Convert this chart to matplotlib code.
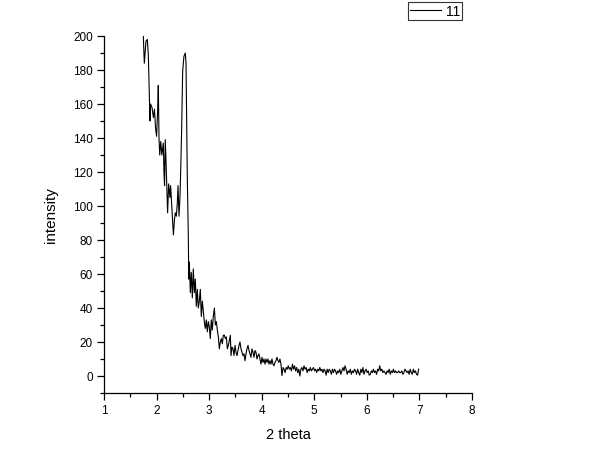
'''
XRD 低角度掃描圖，仿 Origin 輸出風格
intensity vs 2 theta，資料點由原圖讀出
'''

import numpy as np
import matplotlib.pyplot as plt
from matplotlib.ticker import MultipleLocator

plt.rcParams['font.family'] = ['Liberation Sans', 'DejaVu Sans']

# 峰區 (2 theta 非等距，直接由圖上讀)
head_2theta = [
    1.748, 1.767, 1.799, 1.824, 1.843, 1.862, 1.875, 1.885, 1.913, 1.94,
    1.96, 1.98, 2.00, 2.02, 2.033, 2.046, 2.06, 2.08, 2.10, 2.128,
    2.14, 2.152, 2.165, 2.18, 2.198, 2.21, 2.23, 2.255, 2.267, 2.28,
    2.30, 2.32, 2.34, 2.357, 2.376, 2.395, 2.408, 2.427, 2.445, 2.458,
    2.477, 2.496, 2.52, 2.547, 2.56, 2.572, 2.585, 2.604, 2.612, 2.623,
    2.642, 2.66, 2.68, 2.699, 2.718, 2.737, 2.756, 2.775, 2.794, 2.813,
    2.832, 2.851, 2.87, 2.889, 2.908, 2.927, 2.946, 2.965, 2.984, 3.003,
    3.022, 3.041, 3.06, 3.079, 3.10, 3.118, 3.137, 3.156, 3.175, 3.194,
    3.213, 3.232, 3.251, 3.27, 3.289, 3.308, 3.327, 3.346, 3.365, 3.384,
    3.403, 3.416, 3.435, 3.454, 3.473, 3.492, 3.511, 3.53, 3.549, 3.568,
    3.587, 3.606, 3.625, 3.644, 3.663, 3.682, 3.701, 3.72, 3.739, 3.758,
    3.777, 3.796, 3.815, 3.834, 3.853, 3.872, 3.891, 3.91, 3.929, 3.948,
    3.967, 3.986, 4.005, 4.024, 4.043, 4.062, 4.081, 4.10, 4.119, 4.138,
    4.157, 4.176, 4.195, 4.214, 4.233, 4.252, 4.271, 4.29, 4.309, 4.328,
    4.347, 4.366, 4.385,
]
head_intensity = [
    200, 184, 197, 198, 189, 165, 150, 160, 158, 152,
    157, 146, 141, 156, 171, 140, 130, 138, 130, 137,
    120, 112, 139, 126, 108, 96, 113, 105, 112, 105,
    94, 83, 92, 96, 94, 102, 112, 94, 105, 120,
    145, 179, 188, 190, 184, 153, 116, 82, 57, 67,
    49, 61, 46, 63, 49, 57, 41, 51, 40, 44,
    51, 35, 44, 38, 32, 28, 33, 26, 32, 29,
    22, 33, 27, 35, 40, 30, 32, 27, 23, 16,
    20, 22, 19, 24, 24, 22, 23, 16, 18, 21,
    24, 12, 17, 16, 12, 18, 14, 12, 15, 18,
    20, 16, 14, 12, 13, 9, 13, 16, 18, 15,
    13, 11, 16, 14, 11, 15, 14, 10, 12, 13,
    10, 7, 11, 8, 10, 7, 10, 8, 10, 7,
    9, 7, 10, 7, 6, 8, 9, 11, 9, 8,
    10, 7, 0.2,
]

# 背景區，掃描步距 0.02
tail_start = 4.405
tail_step = 0.02
tail_intensity = [
    5, 4, 2, 5, 4, 6, 4, 5, 3, 7,
    4, 6, 3, 5, 2, 4, 0, 4, 5, 3,
    6, 4, 5, 2, 4, 3, 5, 3, 4, 5,
    3, 4, 2, 4, 3, 5, 3, 4, 2, 4,
    3, 0.5, 4, 2, 4, 3, 1, 4, 2, 4,
    3, 1, 3, 2, 4, 1, 3, 5, 3, 6,
    4, 1, 3, 2, 4, 1, 3, 2, 4, 3,
    1, 4, 2, 0.5, 4, 2, 5, 1, 3, 4,
    2, 3, 0.5, 1, 3, 2, 4, 2, 3, 1,
    4, 3, 6, 3, 4, 2, 3, 2, 1, 3,
    2, 4, 1, 3, 2, 4, 2, 3, 2, 2,
    3, 2, 2, 3, 1, 2, 4, 3, 2, 3,
    1, 4, 2, 1, 4, 2, 3, 1, 0.5, 4,
]

series_label = '11'


def build_series():
    """組合峰區與背景區"""
    tail_2theta = tail_start + tail_step * np.arange(len(tail_intensity))
    x = np.concatenate([np.array(head_2theta), tail_2theta])
    y = np.concatenate([np.array(head_intensity), np.array(tail_intensity)])
    return x, y


def plot_origin_style(x, y):
    fig = plt.figure(figsize=(6, 4.56), dpi=100)
    ax = fig.add_axes([104 / 600, 1 - 394 / 456, 368 / 600, 357 / 456])

    ax.plot(x, y, color='black', lw=0.8, label=series_label)

    ax.set_xlim(1, 8)
    ax.set_ylim(-10, 200)
    ax.xaxis.set_major_locator(MultipleLocator(1))
    ax.xaxis.set_minor_locator(MultipleLocator(0.5))
    ax.yaxis.set_major_locator(MultipleLocator(20))
    ax.yaxis.set_minor_locator(MultipleLocator(10))

    for side in ['top', 'right']:
        ax.spines[side].set_visible(False)
    for side in ['left', 'bottom']:
        ax.spines[side].set_linewidth(0.9)

    ax.tick_params(which='major', direction='out', length=5, width=0.9,
                   labelsize=8.5, pad=3)
    ax.tick_params(which='minor', direction='out', length=3, width=0.9)

    ax.set_xlabel('2 theta', fontsize=10.5)
    ax.set_ylabel('intensity', fontsize=11)
    ax.xaxis.set_label_coords(0.5, -0.096)
    ax.yaxis.set_label_coords(-0.126, 0.5)

    leg = ax.legend(loc='upper left', bbox_to_anchor=(408 / 600, 1 - 3 / 456),
                    bbox_transform=fig.transFigure, fontsize=10, frameon=True,
                    fancybox=False, borderpad=0.15, handlelength=2.25,
                    handletextpad=0.3, borderaxespad=0)
    leg.get_frame().set_edgecolor('black')
    leg.get_frame().set_linewidth(0.8)

    fig.savefig('out.png', dpi=100)


def main():
    x, y = build_series()
    plot_origin_style(x, y)


if __name__ == "__main__":
    main()
